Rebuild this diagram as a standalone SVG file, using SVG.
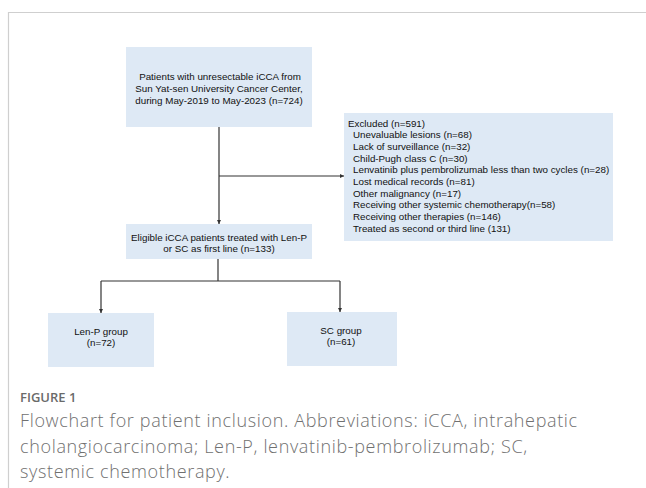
<svg xmlns="http://www.w3.org/2000/svg" width="646" height="488" viewBox="0 0 646 488">
<defs>
<style>
.box{fill:#dee9f5;stroke:none}
.t{font-family:"Liberation Sans",Arial,sans-serif;font-size:9.8px;fill:#111}
.c{text-anchor:middle}
.ln{stroke:#333;stroke-width:1.2;fill:none}
.cap{font-family:"Open Sans","Noto Sans",sans-serif;font-size:18px;letter-spacing:0.65px;font-weight:300;fill:#707070}
.fig{font-family:"Open Sans","Noto Sans",sans-serif;font-size:13px;font-weight:600;fill:#6a6a6a}
</style>
<marker id="ah" viewBox="0 0 6 6" refX="6" refY="3" markerWidth="4" markerHeight="4" orient="auto" markerUnits="userSpaceOnUse">
<path d="M0,0 L6,3 L0,6 z" fill="#333"/>
</marker>
</defs>
<rect x="0" y="0" width="646" height="488" fill="#fff"/>
<path d="M8.5,488 V12.5 H646" fill="none" stroke="#cfcfcf" stroke-width="1.2"/>
<g id="connectors">
<path class="ln" d="M219,127 V224" marker-end="url(#ah)"/>
<path class="ln" d="M219,176 H344" marker-end="url(#ah)"/>
<path class="ln" d="M218,259 V281"/>
<path class="ln" d="M101,281 H340"/>
<path class="ln" d="M101,281 V313" marker-end="url(#ah)"/>
<path class="ln" d="M340,281 V312" marker-end="url(#ah)"/>
</g>
<g id="node-start">
<rect class="box" x="126" y="47" width="186" height="80"/>
<text class="t c" x="220" y="79.5">Patients with unresectable iCCA from</text>
<text class="t c" x="219" y="91.5">Sun Yat-sen University Cancer Center,</text>
<text class="t c" x="219" y="103.5">during May-2019 to May-2023 (n=724)</text>
</g>
<g id="node-excluded">
<rect class="box" x="344" y="113" width="269" height="128"/>
<text class="t" x="348" y="126.5">Excluded (n=591)</text>
<text class="t" x="353" y="138.2">Unevaluable lesions (n=68)</text>
<text class="t" x="353" y="149.9">Lack of surveillance (n=32)</text>
<text class="t" x="353" y="161.6">Child-Pugh class C (n=30)</text>
<text class="t" x="353" y="173.3">Lenvatinib plus pembrolizumab less than two cycles (n=28)</text>
<text class="t" x="353" y="185">Lost medical records (n=81)</text>
<text class="t" x="353" y="196.7">Other malignancy (n=17)</text>
<text class="t" x="353" y="208.4">Receiving other systemic chemotherapy(n=58)</text>
<text class="t" x="353" y="220.1">Receiving other therapies (n=146)</text>
<text class="t" x="353" y="231.8">Treated as second or third line (131)</text>
</g>
<g id="node-eligible">
<rect class="box" x="126" y="224" width="186" height="35"/>
<text class="t c" x="219" y="240.5">Eligible iCCA patients treated with Len-P</text>
<text class="t c" x="219" y="252">or SC as first line (n=133)</text>
</g>
<g id="node-lenp">
<rect class="box" x="48" y="313" width="106" height="54"/>
<text class="t c" x="101" y="334.5">Len-P group</text>
<text class="t c" x="101" y="346">(n=72)</text>
</g>
<g id="node-sc">
<rect class="box" x="287" y="312" width="110" height="54"/>
<text class="t c" x="341" y="333.5">SC group</text>
<text class="t c" x="341" y="345">(n=61)</text>
</g>
<g id="caption">
<text class="fig" x="20" y="401.5">FIGURE 1</text>
<text class="cap" x="20" y="427">Flowchart for patient inclusion. Abbreviations: iCCA, intrahepatic</text>
<text class="cap" x="20" y="452.5">cholangiocarcinoma; Len-P, lenvatinib-pembrolizumab; SC,</text>
<text class="cap" x="20" y="478">systemic chemotherapy.</text>
</g>
</svg>
